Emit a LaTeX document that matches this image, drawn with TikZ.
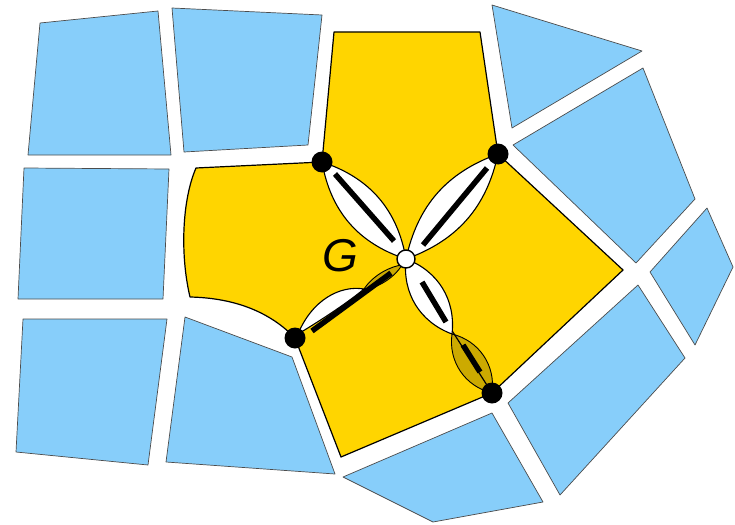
\documentclass[tikz,border=0pt]{standalone}
\usepackage{fontspec}
\newfontfamily\gfont{Liberation Sans}
\definecolor{cellblue}{RGB}{135,206,250}
\definecolor{regyellow}{RGB}{255,213,0}
\begin{document}
\begin{tikzpicture}[x=1pt,y=-1pt,
  cell/.style={fill=cellblue, draw=black!70, line width=0.7pt, line join=round},
  region/.style={fill=regyellow, draw=black, line width=1.2pt, line join=round},
  petal/.style={fill=white, draw=black, line width=1.1pt},
  dpetal/.style={fill=black, fill opacity=0.2, draw=black, draw opacity=1, line width=0.9pt},
  bar/.style={line width=5.5pt},
  vtx/.style={circle, fill=black, inner sep=0pt, minimum size=21pt},
  cvtx/.style={circle, fill=white, draw=black, line width=1.4pt, inner sep=0pt, minimum size=18pt}]
\useasboundingbox (0,0) rectangle (735,524);
% key points
\coordinate (c) at (406,259);
\coordinate (v1) at (322,162);
\coordinate (v2) at (498,154);
\coordinate (v3) at (295,338);
\coordinate (v4) at (492,393);
% blue cells
\draw[cell] (40,23) -- (158,11) -- (171,155) -- (28,155) -- cycle;
\draw[cell] (172,8) -- (322,15) -- (308,145) -- (184,152) -- cycle;
\draw[cell] (24,168) -- (169,169) -- (163,299) -- (18,299) -- cycle;
\draw[cell] (492,5) -- (642,51) -- (512,128) -- cycle;
\draw[cell] (513,145) -- (643,68) -- (695,199) -- (636,263) -- cycle;
\draw[cell] (707,208) -- (733,267) -- (695,345) -- (650,272) -- cycle;
\draw[cell] (638,285) -- (685,358) -- (560,495) -- (508,403) -- cycle;
\draw[cell] (492,413) -- (543,502) -- (433,522) -- (343,477) -- cycle;
\draw[cell] (185,317) -- (292,357) -- (335,474) -- (166,462) -- cycle;
\draw[cell] (23,319) -- (167,319) -- (148,465) -- (16,452) -- cycle;
% yellow region
\draw[region] (196,168) -- (v1) -- (334,32) -- (480,32) -- (v2) -- (623,270) -- (v4)
  -- (341,457) -- (v3) .. controls (270,312) and (235,298) .. (190,297)
  .. controls (180,255) and (182,200) .. (196,168) -- cycle;
% label
\node[font=\gfont\itshape\fontsize{46}{46}\selectfont] (lg) at (340,256) {G};
% petals top-left and top-right
\draw[petal] (c) to[bend left=31] (v1) to[bend left=31] (c);
\draw[petal] (c) to[bend left=29] (v2) to[bend left=29] (c);
\draw[bar] (335,174) -- (394,241);
\draw[bar] (423,245) -- (487,168);
% bottom-left petals
\coordinate (m3) at (364,289);
\draw[petal] (298,334) .. controls (312,300) and (340,285) .. (m3)
  .. controls (346,304) and (318,322) .. (298,334) -- cycle;
\draw[dpetal] (m3) .. controls (374,274) and (392,266) .. (402,265)
  .. controls (394,278) and (378,288) .. (m3) -- cycle;
\draw[bar] (312,331) -- (391,273);
% bottom-right petals
\coordinate (m4) at (452,334);
\draw[line width=1.2pt] (c) -- (v4);
\draw[petal] (c) to[bend left=38] (m4) to[bend left=38] (c);
\draw[dpetal] (m4) to[bend left=42] (v4) to[bend left=42] (m4);
\draw[bar] (422,282) -- (446,322);
\draw[bar] (463,345) -- (480,372);
% vertices
\node[vtx] (n1) at (v1) {};
\node[vtx] (n2) at (v2) {};
\node[vtx] (n3) at (v3) {};
\node[vtx] (n4) at (v4) {};
\node[cvtx] (nc) at (c) {};
\end{tikzpicture}
\end{document}
